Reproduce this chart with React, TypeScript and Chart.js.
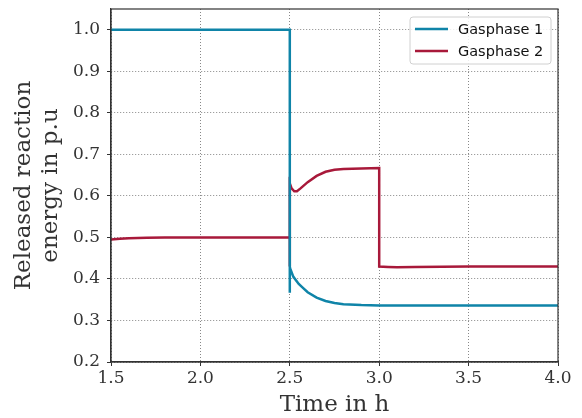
import React, { useEffect, useRef } from "react";
import { Chart, registerables } from "chart.js";
Chart.register(...registerables);

const seriesNames = ["Gasphase 1", "Gasphase 2"];
const seriesColors = ["#0f84a8", "#a8193a"];

const timeG1 = [1.5, 2.0, 2.5, 2.5, 2.5, 2.502, 2.52, 2.55, 2.575, 2.6, 2.65, 2.7, 2.75, 2.8, 2.9, 3.0, 3.5, 4.0];
const valG1 = [1.0, 1.0, 1.0, 0.367, 0.43, 0.425, 0.405, 0.388, 0.378, 0.368, 0.355, 0.347, 0.342, 0.339, 0.337, 0.336, 0.336, 0.336];

const timeG2 = [1.5, 1.55, 1.6, 1.7, 1.8, 2.0, 2.5, 2.5, 2.5, 2.51, 2.525, 2.54, 2.56, 2.6, 2.65, 2.7, 2.75, 2.8, 2.9, 3.0, 3.0, 3.05, 3.1, 3.2, 3.5, 4.0];
const valG2 = [0.495, 0.497, 0.498, 0.499, 0.5, 0.5, 0.5, 0.43, 0.63, 0.618, 0.611, 0.611, 0.618, 0.633, 0.648, 0.658, 0.663, 0.665, 0.666, 0.667, 0.43, 0.429, 0.428, 0.429, 0.43, 0.43];

const xTicks = [1.5, 2.0, 2.5, 3.0, 3.5, 4.0];
const yTicks = [0.2, 0.3, 0.4, 0.5, 0.6, 0.7, 0.8, 0.9, 1.0];

const xTitle = "Time in h";
const yTitle = ["Released reaction", "energy in p.u"];

const legendPlugin = {
  id: "boxLegend",
  afterDraw(chart: any) {
    const ctx = chart.ctx;
    const area = chart.chartArea;
    const w = 141, h = 47;
    const x0 = area.right - 7 - w;
    const y0 = area.top + 8;
    ctx.save();
    ctx.beginPath();
    const r = 3;
    ctx.moveTo(x0 + r, y0);
    ctx.lineTo(x0 + w - r, y0);
    ctx.quadraticCurveTo(x0 + w, y0, x0 + w, y0 + r);
    ctx.lineTo(x0 + w, y0 + h - r);
    ctx.quadraticCurveTo(x0 + w, y0 + h, x0 + w - r, y0 + h);
    ctx.lineTo(x0 + r, y0 + h);
    ctx.quadraticCurveTo(x0, y0 + h, x0, y0 + h - r);
    ctx.lineTo(x0, y0 + r);
    ctx.quadraticCurveTo(x0, y0, x0 + r, y0);
    ctx.closePath();
    ctx.fillStyle = "rgba(255,255,255,0.85)";
    ctx.fill();
    ctx.strokeStyle = "#d0d0d0";
    ctx.lineWidth = 1;
    ctx.stroke();
    ctx.font = "14.5px 'DejaVu Sans'";
    ctx.textBaseline = "middle";
    seriesNames.forEach((name, i) => {
      const yy = y0 + 12 + i * 22;
      ctx.strokeStyle = seriesColors[i];
      ctx.lineWidth = 2.5;
      ctx.beginPath();
      ctx.moveTo(x0 + 5, yy);
      ctx.lineTo(x0 + 38, yy);
      ctx.stroke();
      ctx.fillStyle = "#111";
      ctx.fillText(name, x0 + 48, yy + 1);
    });
    ctx.restore();
  },
};

export default function App() {
  const ref = useRef<HTMLCanvasElement>(null);
  useEffect(() => {
    const toPts = (xs: number[], ys: number[]) => xs.map((x, i) => ({ x, y: ys[i] }));
    const chart = new Chart(ref.current!, {
      type: "line",
      data: {
        datasets: [
          { label: seriesNames[0], data: toPts(timeG1, valG1), borderColor: seriesColors[0], borderWidth: 2.5, pointRadius: 0, tension: 0 },
          { label: seriesNames[1], data: toPts(timeG2, valG2), borderColor: seriesColors[1], borderWidth: 2.5, pointRadius: 0, tension: 0 },
        ],
      },
      options: {
        animation: false,
        responsive: false,
        maintainAspectRatio: false,
        layout: { padding: { top: 9, right: 24, left: 0, bottom: 0 } },
        plugins: { legend: { display: false }, tooltip: { enabled: false } },
        scales: {
          x: {
            type: "linear",
            min: 1.5,
            max: 4.0,
            afterBuildTicks: (s: any) => { s.ticks = xTicks.map((v) => ({ value: v })); },
            afterFit: (s: any) => { s.height = 56; s.paddingLeft = 0; s.paddingRight = 0; },
            ticks: {
              color: "#333",
              font: { family: "'DejaVu Serif'", size: 17 },
              padding: 2,
              maxRotation: 0,
              callback: (v: any) => Number(v).toFixed(1),
            },
            grid: { color: "#888", lineWidth: 1, tickLength: 4, tickColor: "#333" },
            border: { display: true, color: "#333", width: 1.2, dash: [1, 2] },
            title: { display: true, text: xTitle, color: "#333", font: { family: "'DejaVu Serif'", size: 23, lineHeight: 1.1 }, padding: { top: 0, bottom: 0 } },
          },
          y: {
            type: "linear",
            min: 0.2,
            max: 1.05,
            afterBuildTicks: (s: any) => { s.ticks = yTicks.map((v) => ({ value: v })); },
            afterFit: (s: any) => { s.width = 111; s.paddingTop = 0; s.paddingBottom = 0; },
            ticks: {
              color: "#333",
              font: { family: "'DejaVu Serif'", size: 17 },
              padding: 7,
              callback: (v: any) => Number(v).toFixed(1),
            },
            grid: { color: "#888", lineWidth: 1, tickLength: 4, tickColor: "#333" },
            border: { display: true, color: "#333", width: 1.2, dash: [1, 2] },
            title: { display: true, text: yTitle, color: "#333", font: { family: "'DejaVu Serif'", size: 23, lineHeight: 1.2 }, padding: { top: 10, bottom: 0 } },
          },
        },
      },
      plugins: [
        legendPlugin,
        {
          id: "frame",
          afterDraw(chart: any) {
            const { ctx, chartArea: a } = chart;
            ctx.save();
            ctx.strokeStyle = "#333";
            ctx.lineWidth = 1.2;
            ctx.strokeRect(a.left, a.top, a.right - a.left, a.bottom - a.top);
            ctx.restore();
          },
        },
      ],
    } as any);
    return () => chart.destroy();
  }, []);
  return (
    <div style={{ position: "fixed", left: 0, top: 0, width: 582, height: 418, background: "#fff" }}>
      <canvas ref={ref} width={582} height={418} style={{ width: 582, height: 418 }} />
    </div>
  );
}
